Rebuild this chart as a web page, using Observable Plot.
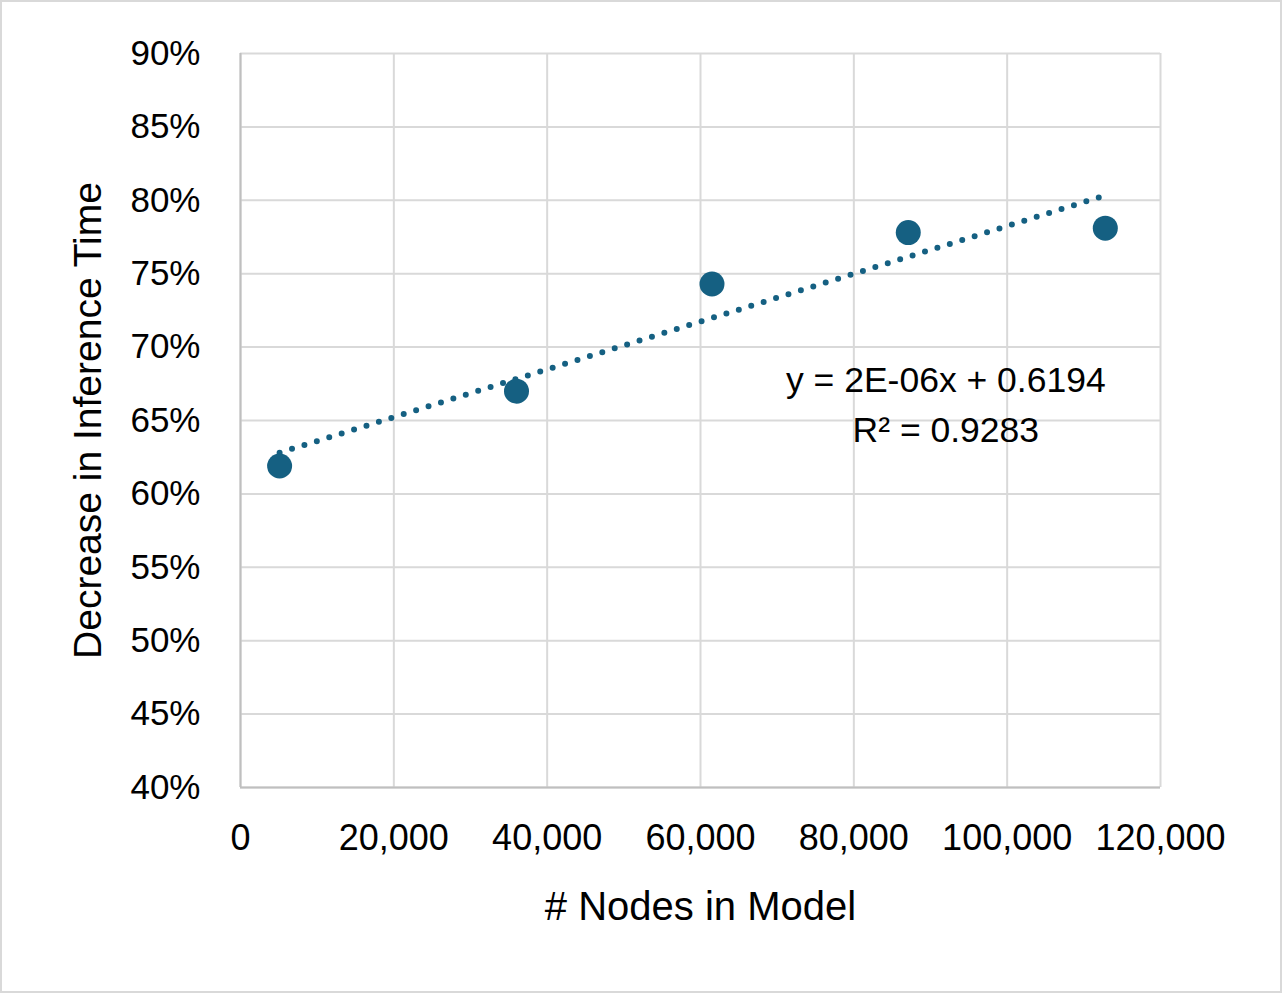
<!DOCTYPE html>
<html>
<head>
<meta charset="utf-8">
<script src="https://cdn.jsdelivr.net/npm/d3@7"></script>
<script src="https://cdn.jsdelivr.net/npm/@observablehq/plot@0.6"></script>
<style>
  html, body { margin: 0; padding: 0; background: #fff; }
  #chart svg { display: block; outline: 2px solid #d9d9d9; outline-offset: -2px; }
</style>
</head>
<body>
<div id="chart"></div>
<script>
// Data
const nodes = [5100, 36000, 61500, 87100, 112800];
const decrease = [0.619, 0.670, 0.743, 0.778, 0.781];
const xTicks = [0, 20000, 40000, 60000, 80000, 100000, 120000];
const yTicks = [0.40, 0.45, 0.50, 0.55, 0.60, 0.65, 0.70, 0.75, 0.80, 0.85, 0.90];
const equationLines = ["y = 2E-06x + 0.6194", "R\u00B2 = 0.9283"];
const equationX = [92000, 92000];
const equationY = [0.677, 0.643];

const points = nodes.map((x, i) => ({x, y: decrease[i]}));

// least-squares trendline over the data's x extent
const mx = d3.mean(nodes), my = d3.mean(decrease);
const slope = d3.sum(points, d => (d.x - mx) * (d.y - my)) / d3.sum(points, d => (d.x - mx) ** 2);
const intercept = my - slope * mx;
const trend = d3.extent(nodes).map(x => ({x, y: intercept + slope * x}));

const annotations = equationLines.map((t, i) => ({text: t, x: equationX[i], y: equationY[i]}));

const font = "'Liberation Sans', Arial, sans-serif";
const color = "#156082";

const chart = Plot.plot({
  width: 1282,
  height: 993,
  marginLeft: 240,
  marginRight: 122,
  marginTop: 53,
  marginBottom: 206,
  style: {fontFamily: font, fontSize: "35px", color: "#000", background: "#fff"},
  x: {domain: [0, 120000], ticks: xTicks, tickFormat: d3.format(","), label: null},
  y: {domain: [0.4, 0.9], ticks: yTicks, tickFormat: d3.format(".0%"), label: null},
  marks: [
    Plot.gridX(xTicks, {stroke: "#d9d9d9", strokeOpacity: 1, strokeWidth: 2}),
    Plot.gridY(yTicks, {stroke: "#d9d9d9", strokeOpacity: 1, strokeWidth: 2}),
    Plot.ruleX([0], {stroke: "#bfbfbf", strokeWidth: 2}),
    Plot.ruleY([0.4], {stroke: "#bfbfbf", strokeWidth: 2}),
    Plot.axisX(xTicks, {tickSize: 0, tickPadding: 37, tickFormat: d3.format(","), label: null, fontSize: 36}),
    Plot.axisY(yTicks, {tickSize: 0, tickPadding: 40, tickFormat: d3.format(".0%"), label: null, fontSize: 35}),
    Plot.line(trend, {x: "x", y: "y", stroke: color, strokeWidth: 6, strokeDasharray: "0,13", strokeLinecap: "round"}),
    Plot.dot(points, {x: "x", y: "y", r: 12.5, fill: color, stroke: "none"}),
    Plot.text(annotations, {x: "x", y: "y", text: "text", fontSize: 35.5, fill: "#000", textAnchor: "middle", lineAnchor: "middle"}),
    Plot.text(["# Nodes in Model"], {frameAnchor: "bottom", dy: 120, fontSize: 40, fill: "#000", textAnchor: "middle", lineAnchor: "middle"}),
    Plot.text(["Decrease in Inference Time"], {frameAnchor: "left", dx: -152, rotate: -90, fontSize: 39, fill: "#000", textAnchor: "middle", lineAnchor: "middle"})
  ]
});
document.getElementById("chart").append(chart);
</script>
</body>
</html>
